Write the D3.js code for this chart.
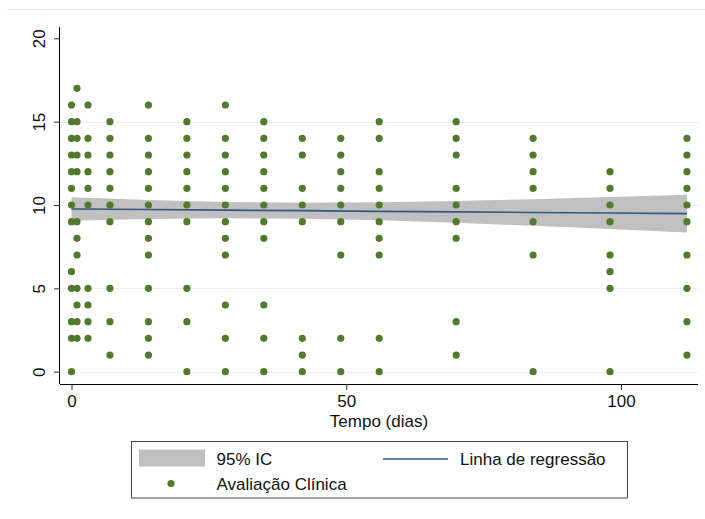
<!DOCTYPE html>
<html>
<head>
<meta charset="utf-8">
<script src="https://cdn.jsdelivr.net/npm/d3@7"></script>
<style>
  html, body { margin: 0; padding: 0; background: #fff; }
  svg { display: block; font-family: "Liberation Sans", Arial, sans-serif; }
</style>
</head>
<body>
<svg id="chart" width="705" height="519"></svg>
<script>
// Clinical evaluation scores per follow-up day
const evalDays = [0, 1, 3, 7, 14, 21, 28, 35, 42, 49, 56, 70, 84, 98, 112];
const evalScores = [
  [16, 15, 14, 13, 12, 11, 10, 9, 6, 5, 3, 2, 0],
  [17, 15, 14, 13, 12, 9, 8, 7, 5, 4, 3, 2],
  [16, 14, 13, 12, 11, 10, 5, 4, 3, 2],
  [15, 14, 13, 12, 11, 10, 9, 5, 3, 1],
  [16, 14, 13, 12, 11, 10, 9, 8, 7, 5, 3, 2, 1],
  [15, 14, 13, 12, 11, 10, 9, 5, 3, 0],
  [16, 14, 13, 12, 11, 10, 9, 8, 7, 4, 2, 0],
  [15, 14, 13, 12, 11, 10, 9, 8, 4, 2, 0],
  [14, 13, 11, 10, 9, 2, 1, 0],
  [14, 13, 12, 11, 10, 9, 7, 2, 0],
  [15, 14, 12, 11, 10, 9, 8, 7, 2, 0],
  [15, 14, 13, 11, 10, 9, 8, 3, 1],
  [14, 13, 12, 11, 9, 7, 0],
  [12, 11, 10, 9, 7, 6, 5, 0],
  [14, 13, 12, 11, 10, 9, 7, 5, 3, 1]
];

// Fitted regression line and its 95% confidence band
const fitDays  = [0, 14, 28, 42, 56, 70, 84, 98, 112];
const fitValue = [9.76, 9.73, 9.69, 9.66, 9.62, 9.59, 9.55, 9.52, 9.48];
const ciLower  = [9.06, 9.16, 9.20, 9.18, 9.08, 8.94, 8.75, 8.56, 8.35];
const ciUpper  = [10.46, 10.30, 10.18, 10.14, 10.16, 10.24, 10.35, 10.48, 10.61];

const xTicks = [0, 50, 100];
const yTicks = [0, 5, 10, 15, 20];
const yGrid  = [0, 5, 10, 15];
const xTitle = "Tempo (dias)";
const legendLabels = { ci: "95% IC", fit: "Linha de regressão", pts: "Avaliação Clínica" };

const COLORS = { point: "#527a2d", line: "#2f5b82", band: "#c0c0c0", grid: "#eaf1f2", axis: "#000" };

const svg = d3.select("#chart");

// plot region bounds
const plot = { left: 60, right: 698, top: 27, bottom: 384 };

const x = d3.scaleLinear().domain([0, 100]).range([71.5, 621]);
const y = d3.scaleLinear().domain([0, 20]).range([371.7, 38.3]);

// thin rule along the top of the graph area
svg.append("line")
  .attr("x1", 7).attr("x2", 705).attr("y1", 9.5).attr("y2", 9.5)
  .attr("stroke", "#e4ecee").attr("stroke-width", 1);

// horizontal grid
svg.append("g").selectAll("line").data(yGrid).join("line")
  .attr("x1", plot.left).attr("x2", plot.right)
  .attr("y1", d => Math.round(y(d)) + 0.5).attr("y2", d => Math.round(y(d)) + 0.5)
  .attr("stroke", COLORS.grid).attr("stroke-width", 1);

// confidence band
const bandData = fitDays.map((d, i) => ({ d, lo: ciLower[i], hi: ciUpper[i] }));
svg.append("path")
  .datum(bandData)
  .attr("fill", COLORS.band)
  .attr("d", d3.area().x(p => x(p.d)).y0(p => y(p.lo)).y1(p => y(p.hi)));

// regression line
const fitData = fitDays.map((d, i) => ({ d, v: fitValue[i] }));
svg.append("path")
  .datum(fitData)
  .attr("fill", "none")
  .attr("stroke", COLORS.line)
  .attr("stroke-width", 1.6)
  .attr("d", d3.line().x(p => x(p.d)).y(p => y(p.v)));

// observations
const points = [];
evalDays.forEach((d, i) => evalScores[i].forEach(v => points.push({ d, v })));
svg.append("g").selectAll("circle").data(points).join("circle")
  .attr("cx", p => x(p.d)).attr("cy", p => y(p.v)).attr("r", 3.6)
  .attr("fill", COLORS.point);

// axes
const xAxis = d3.axisBottom(x).tickValues(xTicks).tickSize(6).tickPadding(5).tickFormat(d3.format("d"));
const gx = svg.append("g").attr("transform", `translate(0,${plot.bottom})`).call(xAxis);
gx.select(".domain").attr("d", `M${plot.left},0.5H${plot.right}`).attr("stroke", COLORS.axis);
gx.selectAll(".tick line").attr("stroke", "#333");
gx.selectAll(".tick text").attr("font-size", 17).attr("fill", "#111").attr("font-family", "Liberation Sans, Arial, sans-serif");

const yAxis = d3.axisLeft(y).tickValues(yTicks).tickSize(6).tickFormat(d3.format("d"));
const gy = svg.append("g").attr("transform", `translate(${plot.left},0)`).call(yAxis);
gy.select(".domain").attr("d", `M-0.5,${plot.top}V${plot.bottom}`).attr("stroke", COLORS.axis);
gy.selectAll(".tick line").attr("stroke", "#333");
gy.selectAll(".tick text")
  .attr("font-size", 17).attr("fill", "#111")
  .attr("font-family", "Liberation Sans, Arial, sans-serif")
  .attr("x", null).attr("dy", null)
  .attr("text-anchor", "middle")
  .attr("transform", "translate(-15,0) rotate(-90)");

// x-axis title
svg.append("text")
  .attr("x", (plot.left + plot.right) / 2).attr("y", 427)
  .attr("text-anchor", "middle").attr("font-size", 17).attr("fill", "#111")
  .text(xTitle);

// legend
const lg = svg.append("g");
lg.append("rect")
  .attr("x", 131.5).attr("y", 441.5).attr("width", 496).attr("height", 56.5)
  .attr("fill", "#fff").attr("stroke", "#444").attr("stroke-width", 1);
lg.append("rect")
  .attr("x", 139).attr("y", 449.5).attr("width", 66).attr("height", 17)
  .attr("fill", COLORS.band);
lg.append("text").attr("x", 216.5).attr("y", 464.5).attr("font-size", 17).attr("fill", "#111")
  .text(legendLabels.ci);
lg.append("line")
  .attr("x1", 383).attr("x2", 448).attr("y1", 459).attr("y2", 459)
  .attr("stroke", COLORS.line).attr("stroke-width", 1.6);
lg.append("text").attr("x", 460).attr("y", 464.5).attr("font-size", 17).attr("fill", "#111")
  .text(legendLabels.fit);
lg.append("circle").attr("cx", 171).attr("cy", 483.5).attr("r", 3.6).attr("fill", COLORS.point);
lg.append("text").attr("x", 216.5).attr("y", 489.5).attr("font-size", 17).attr("fill", "#111")
  .text(legendLabels.pts);
</script>
</body>
</html>
